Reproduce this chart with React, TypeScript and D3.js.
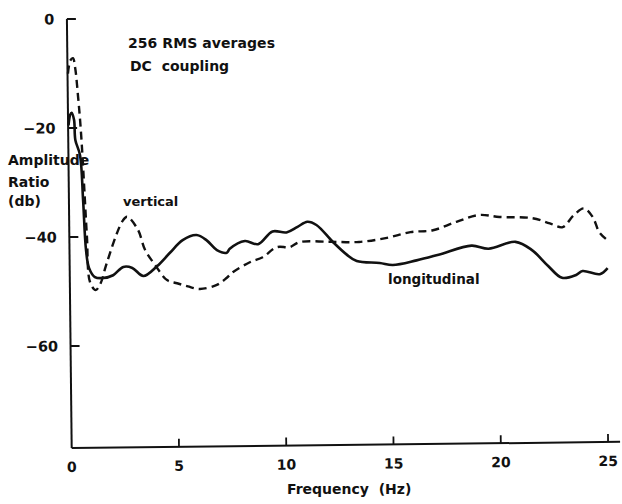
import React from "react";
import * as d3 from "d3";

// Axis ticks
const xTicks = [0, 5, 10, 15, 20, 25];
const yTicks = [0, -20, -40, -60];

// "vertical" series (dashed)
const verticalFreq = [0.02, 0.14, 0.26, 0.36, 0.48, 0.56, 0.64, 0.72, 0.82, 0.94, 1.2, 1.44, 1.67, 1.89, 2.22, 2.5, 2.7, 3.2, 3.52, 3.98, 4.53, 5.0, 5.5, 6.06, 6.85, 7.32, 7.6, 8.4, 9.0, 9.66, 10.26, 10.73, 12.13, 13.5, 14.8, 15.9, 16.95, 18.05, 19.1, 20.05, 21.6, 22.4, 23.0, 23.5, 24.0, 24.4, 24.7, 25.05];
const verticalDb = [-10, -7.6, -7.2, -9, -14.3, -18.5, -24, -31, -40, -48.3, -49.8, -48.5, -45.6, -43, -39.4, -37.1, -36.4, -38.8, -42.5, -45.3, -48.1, -48.7, -49.3, -49.8, -49.1, -47.8, -46.8, -45, -44.1, -42.3, -42.3, -41.4, -41.4, -41.5, -40.8, -39.8, -39.5, -38.0, -36.8, -37.2, -37.5, -38.5, -39.2, -37.1, -35.8, -37.4, -40.2, -41.6];

// "longitudinal" series (solid)
const longitudinalFreq = [0.02, 0.1, 0.17, 0.28, 0.33, 0.54, 0.66, 0.77, 0.9, 1.17, 1.55, 2.02, 2.5, 2.92, 3.43, 4.08, 4.68, 5.28, 5.93, 6.4, 6.87, 7.33, 7.47, 8.18, 8.79, 9.47, 10.12, 10.64, 11.1, 11.52, 12.27, 12.92, 13.38, 14.45, 15.06, 16.17, 17.2, 18.74, 19.53, 20.79, 21.54, 22.3, 22.94, 23.6, 23.9, 24.7, 25.07];
const longitudinalDb = [-19.5, -17.6, -17.2, -18.5, -22.2, -25, -33.2, -42.4, -45.7, -47.4, -47.6, -47.1, -45.6, -45.8, -47.3, -45.5, -43.1, -40.8, -39.9, -40.9, -42.7, -43.2, -42.5, -41.1, -41.7, -39.4, -39.6, -38.6, -37.7, -38.3, -41.4, -43.8, -45.0, -45.4, -45.8, -45.0, -44.0, -42.4, -43.0, -41.8, -43.3, -46.3, -48.5, -48.0, -47.3, -47.9, -46.8];

const FONT = "'DejaVu Sans', 'Liberation Sans', sans-serif";
const INK = "#111";

export default function App() {
  const W = 622;
  const H = 504;
  const x = d3.scaleLinear().domain([0, 25]).range([71.7, 608.1]);
  const y = d3.scaleLinear().domain([0, -60]).range([19, 346]);
  const yBottom = 448;
  const xLeft = x(0);
  const xRight = x(25) + 12;

  const line = d3
    .line<[number, number]>()
    .x((d) => x(d[0]))
    .y((d) => y(d[1]))
    .curve(d3.curveCatmullRom.alpha(0.5));

  const vPts: [number, number][] = verticalFreq.map((f, i) => [f, verticalDb[i]]);
  const lPts: [number, number][] = longitudinalFreq.map((f, i) => [f, longitudinalDb[i]]);

  const fmtY = (v: number) => (v === 0 ? "0" : "\u2212" + Math.abs(v));

  return (
    <svg
      width={W}
      height={H}
      style={{ position: "absolute", left: 0, top: 0, background: "#fff" }}
      fontFamily={FONT}
      fontWeight="bold"
    >
      <rect x={0} y={0} width={W} height={H} fill="#fff" />
      <g transform={`rotate(-0.64, ${xLeft}, ${yBottom})`}>
        {/* y axis */}
        <line x1={xLeft} y1={y(0)} x2={xLeft} y2={yBottom} stroke={INK} strokeWidth={2} />
        {yTicks.map((t) => (
          <g key={"y" + t}>
            <line x1={xLeft} x2={xLeft + 9} y1={y(t)} y2={y(t)} stroke={INK} strokeWidth={2} />
            <text x={xLeft - 12.5} y={y(t)} dy="0.36em" textAnchor="end" fontSize={14.5} fill={INK}>
              {fmtY(t)}
            </text>
          </g>
        ))}
        {/* x axis */}
        <line x1={xLeft} y1={yBottom} x2={xRight} y2={yBottom} stroke={INK} strokeWidth={2} />
        {xTicks.map((t) => (
          <g key={"x" + t}>
            {t !== 0 && (
              <line x1={x(t)} x2={x(t)} y1={yBottom} y2={yBottom - 8} stroke={INK} strokeWidth={1.8} />
            )}
            <text x={x(t)} y={yBottom + 24} textAnchor="middle" fontSize={14} fill={INK}>
              {t}
            </text>
          </g>
        ))}
        {/* series */}
        <path d={line(vPts) || ""} fill="none" stroke={INK} strokeWidth={2.4} strokeDasharray="8,5" />
        <path d={line(lPts) || ""} fill="none" stroke={INK} strokeWidth={2.6} />
      </g>

      {/* annotations */}
      <text x={128} y={48} fontSize={14} fill={INK} textLength={147} lengthAdjust="spacing">
        256  RMS averages
      </text>
      <text x={130} y={71} fontSize={14} fill={INK} xmlSpace="preserve">
        DC  coupling
      </text>
      <text x={123} y={206} fontSize={13} fill={INK}>
        vertical
      </text>
      <text x={388} y={284} fontSize={13.5} fill={INK}>
        longitudinal
      </text>

      {/* axis titles */}
      <text x={8} y={165} fontSize={14} fill={INK}>Amplitude</text>
      <text x={8} y={187} fontSize={14} fill={INK}>Ratio</text>
      <text x={8} y={206} fontSize={14} fill={INK}>(db)</text>
      <text x={287} y={494} fontSize={14} fill={INK} xmlSpace="preserve">
        Frequency  (Hz)
      </text>
    </svg>
  );
}
